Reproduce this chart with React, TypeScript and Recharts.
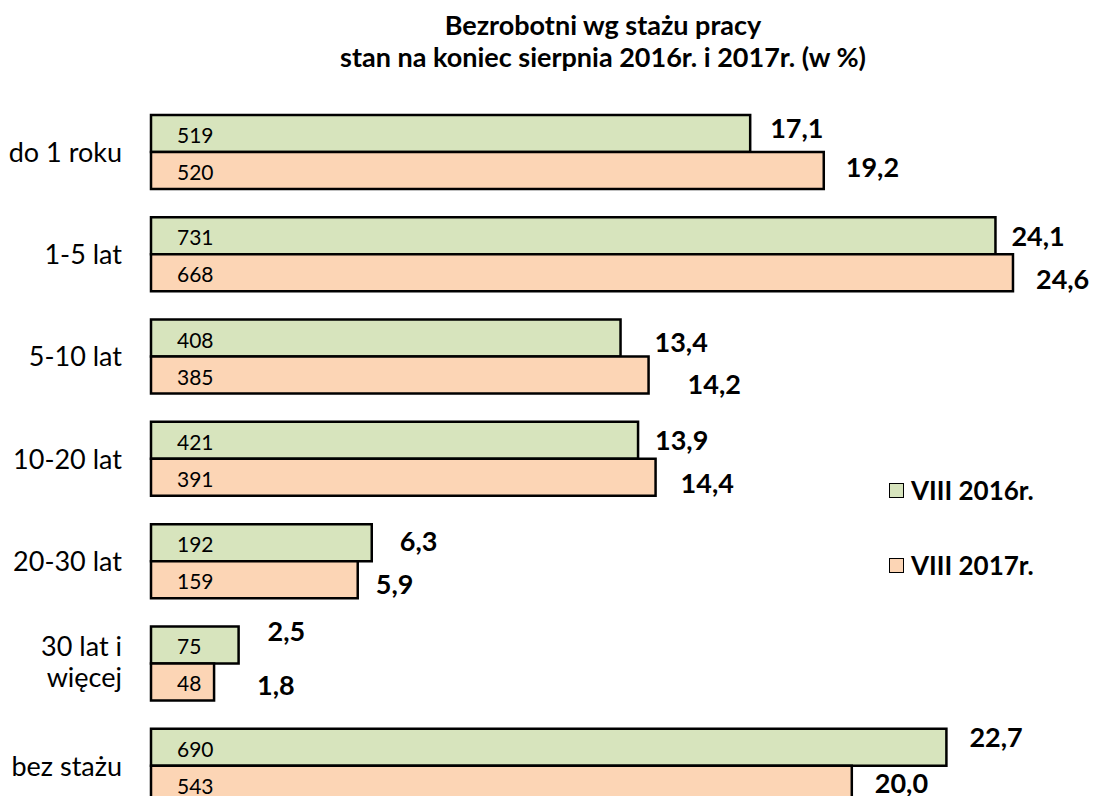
import React from "react";
import { BarChart, Bar, XAxis, YAxis, LabelList } from "recharts";

const categories = ["do 1 roku", "1-5 lat", "5-10 lat", "10-20 lat", "20-30 lat", "30 lat i\nwięcej", "bez stażu"];
const pct2016 = [17.1, 24.1, 13.4, 13.9, 6.3, 2.5, 22.7];
const pct2017 = [19.2, 24.6, 14.2, 14.4, 5.9, 1.8, 20.0];
const cnt2016 = [519, 731, 408, 421, 192, 75, 690];
const cnt2017 = [520, 668, 385, 391, 159, 48, 543];
const seriesNames = ["VIII 2016r.", "VIII 2017r."];
const titleLines = ["Bezrobotni wg stażu pracy", "stan na koniec sierpnia 2016r. i 2017r. (w %)"];

// label nudges (dx from bar end, dy from bar centre) as placed in the original
const nudge2016 = [[20, -6], [16, 0], [34, 3], [17, -1], [28, -2], [29, -14], [23, -11]];
const nudge2017 = [[22, -4], [23, 6], [39, 8], [25, 5], [18, 4], [43, 3], [23, -2]];

const GREEN = "#D7E4BD";
const PEACH = "#FCD5B5";
const FONT = "Lato, 'Open Sans', sans-serif";

const data = categories.map((c, i) => ({
  cat: c,
  p16: pct2016[i],
  p17: pct2017[i],
  c16: cnt2016[i],
  c17: cnt2017[i],
}));

const fmt = (v: number) => v.toFixed(1).replace(".", ",");

const CatTick = (props: any) => {
  const { x, y, payload } = props;
  const lines = String(payload.value).split("\n");
  if (lines.length === 1) {
    return (
      <text x={x} y={y} dy="0.36em" textAnchor="end" fontFamily={FONT} fontSize={27} fill="#000">
        {lines[0]}
      </text>
    );
  }
  return (
    <text x={x} y={y} textAnchor="end" fontFamily={FONT} fontSize={27} fill="#000">
      <tspan x={x} y={y - 8}>{lines[0]}</tspan>
      <tspan x={x} y={y + 23}>{lines[1]}</tspan>
    </text>
  );
};

const countLabel = (props: any) => {
  const { x, y, height, value } = props;
  return (
    <text x={x + 26} y={y + height / 2 + 1} dominantBaseline="central" fontFamily={FONT} fontSize={21} fill="#000">
      {value}
    </text>
  );
};

const pctLabel = (nudges: number[][]) => (props: any) => {
  const { x, y, width, height, value, index } = props;
  const [dx, dy] = nudges[index] || [20, 0];
  return (
    <text
      x={x + width + dx}
      y={y + height / 2 + dy}
      dominantBaseline="central"
      fontFamily={FONT}
      fontSize={27}
      fontWeight={700}
      fill="#000"
    >
      {fmt(Number(value))}
    </text>
  );
};

const LegendBox = () => {
  const colors = [GREEN, PEACH];
  return (
    <div style={{ position: "absolute", left: 889, top: 475, fontFamily: FONT }}>
      {seriesNames.map((n, i) => (
        <div key={n} style={{ display: "flex", alignItems: "center", height: 30, marginBottom: i === 0 ? 45 : 0 }}>
          <div
            style={{
              width: 13,
              height: 13,
              background: colors[i],
              border: "1.5px solid #000",
              marginRight: 7,
            }}
          />
          <span style={{ fontSize: 26, fontWeight: 700, color: "#000", lineHeight: "30px", whiteSpace: "nowrap" }}>{n}</span>
        </div>
      ))}
    </div>
  );
};

export default function App() {
  return (
    <div
      style={{
        position: "fixed",
        left: 0,
        top: 0,
        width: 1093,
        height: 796,
        overflow: "hidden",
        background: "#fff",
      }}
    >
      <div
        style={{
          position: "absolute",
          left: 303,
          top: 9,
          width: 600,
          textAlign: "center",
          fontFamily: FONT,
          fontWeight: 700,
          fontSize: 27,
          lineHeight: "32px",
          whiteSpace: "nowrap",
          color: "#000",
        }}
      >
        <div>{titleLines[0]}</div>
        <div>{titleLines[1]}</div>
      </div>
      <div style={{ position: "absolute", left: 0, top: 0 }}>
        <BarChart
          width={1093}
          height={830}
          data={data}
          layout="vertical"
          margin={{ top: 101, right: 66, bottom: 13, left: 0 }}
          barGap={0}
          barSize={37}
        >
          <XAxis type="number" domain={[0, 25]} hide />
          <YAxis
            type="category"
            dataKey="cat"
            width={151}
            axisLine={false}
            tickLine={false}
            tickMargin={23}
            interval={0}
            tick={<CatTick />}
          />
          <Bar dataKey="p16" name={seriesNames[0]} fill={GREEN} stroke="#000" strokeWidth={2.5} isAnimationActive={false}>
            <LabelList dataKey="c16" content={countLabel} />
            <LabelList dataKey="p16" content={pctLabel(nudge2016)} />
          </Bar>
          <Bar dataKey="p17" name={seriesNames[1]} fill={PEACH} stroke="#000" strokeWidth={2.5} isAnimationActive={false}>
            <LabelList dataKey="c17" content={countLabel} />
            <LabelList dataKey="p17" content={pctLabel(nudge2017)} />
          </Bar>
        </BarChart>
      </div>
      <LegendBox />
    </div>
  );
}
